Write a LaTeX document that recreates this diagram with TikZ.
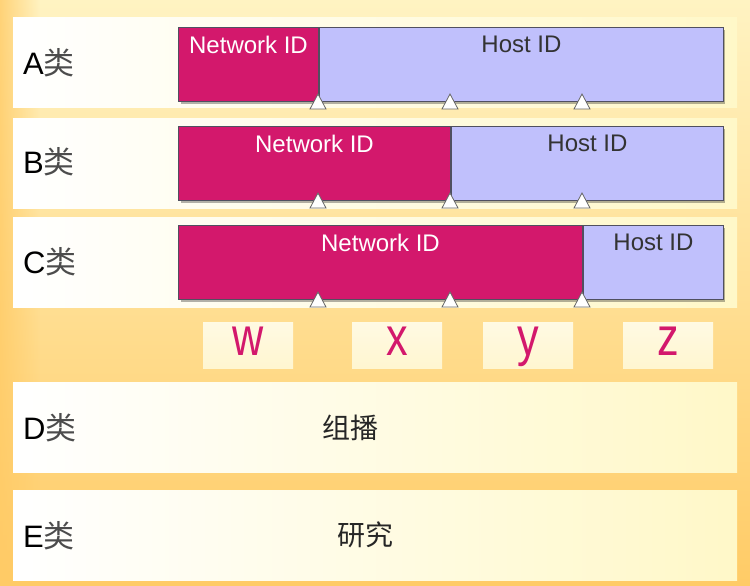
\documentclass[tikz,border=0pt]{standalone}
\usepackage{fontspec}
\setmainfont{Liberation Sans}
\newfontfamily\cjk{Noto Sans CJK SC}
\usetikzlibrary{positioning,fadings}
\definecolor{netred}{HTML}{D3186C}
\definecolor{hostblue}{HTML}{C0C0FC}
\definecolor{bgtop}{HTML}{FFF3C2}
\definecolor{bgbot}{HTML}{FFCB66}
\definecolor{panelr}{HTML}{FFF8C8}
\definecolor{barline}{HTML}{505060}
\definecolor{lettbox}{HTML}{FFF6D0}
\newcommand{\Tick}[2]{%
  \filldraw[fill=white,draw=gray!80!black,line width=0.8pt]
    ({#1-8},{#2+8}) -- (#1,{#2-7}) -- ({#1+8},{#2+8}) -- cycle;%
}
\newcommand{\Octet}[1]{\scalebox{0.8}[1]{#1}}
\tikzset{
  panel/.style={left color=white,right color=panelr,draw=none,inner sep=0pt,
    anchor=north west,minimum width=724pt,minimum height=90pt},
  seg/.style={draw=barline,line width=1pt,anchor=north west,inner sep=0pt,
    minimum height=74pt},
  netseg/.style={seg,fill=netred},
  hostseg/.style={seg,fill=hostblue},
  nettext/.style={text=white,font=\fontsize{24}{26}\selectfont,inner sep=0pt},
  hosttext/.style={text=black!80,font=\fontsize{24}{26}\selectfont,inner sep=0pt},
  rowlabel/.style={anchor=west,inner sep=0pt,font=\fontsize{31}{34}\selectfont},
  cjklabel/.style={inner sep=0pt,font=\cjk\fontsize{28}{32}\selectfont,text=black!85},
  lettbox/.style={top color=lettbox!60!white,bottom color=lettbox,draw=none,
    minimum width=90pt,minimum height=46pt,anchor=north west,inner sep=0pt},
  octet/.style={inner sep=0pt,text=netred,font=\fontsize{54}{54}\selectfont}
}
\begin{document}
\begin{tikzpicture}[x=1pt,y=-1pt]
  \shade[top color=bgtop,bottom color=bgbot] (0,0) rectangle (750,586);
  \fill[bgbot,path fading=east,opacity=0.8] (0,0) rectangle (40,586);
  \useasboundingbox (0,0) rectangle (750,586);

  % white rows
  \node[panel] (rowa) at (13,17) {};
  \node[panel] (rowb) at (13,118) {};
  \node[panel] (rowc) at (13,217) {};
  \node[panel] (rowd) at (13,382) {};
  \node[panel] (rowe) at (13,490) {};

  % shadows
  \fill[black,opacity=0.3] (181,30) rectangle (725,104);
  \fill[black,opacity=0.3] (181,129) rectangle (725,203);
  \fill[black,opacity=0.3] (181,228) rectangle (725,302);

  % A
  \node[netseg,minimum width=140pt] (anet) at (178,27) {};
  \node[hostseg,minimum width=404pt,right=0pt of anet.north east,anchor=north west] (ahost) {};
  \node[nettext,below=9pt of anet.north] {Network ID};
  \node[hosttext,below=9pt of ahost.north] {Host ID};
  % B
  \node[netseg,minimum width=272pt] (bnet) at (178,126) {};
  \node[hostseg,minimum width=272pt,right=0pt of bnet.north east,anchor=north west] (bhost) {};
  \node[nettext,below=9pt of bnet.north] {Network ID};
  \node[hosttext,below=9pt of bhost.north] {Host ID};
  % C
  \node[netseg,minimum width=404pt] (cnet) at (178,225) {};
  \node[hostseg,minimum width=140pt,right=0pt of cnet.north east,anchor=north west] (chost) {};
  \node[nettext,below=9pt of cnet.north] {Network ID};
  \node[hosttext,below=9pt of chost.north] {Host ID};

  \Tick{318}{101} \Tick{450}{101} \Tick{582}{101}
  \Tick{318}{200} \Tick{450}{200} \Tick{582}{200}
  \Tick{318}{299} \Tick{450}{299} \Tick{582}{299}

  % row names
  \node[rowlabel] (la) at (23,63) {A{\cjk\color{black!70}类}};
  \node[rowlabel] (lb) at (23,162) {B{\cjk\color{black!70}类}};
  \node[rowlabel] (lc) at (23,262) {C{\cjk\color{black!70}类}};
  \node[rowlabel] (ld) at (23,428) {D{\cjk\color{black!70}类}};
  \node[rowlabel] (le) at (23,536) {E{\cjk\color{black!70}类}};
  \node[cjklabel] (multi) at (350,428) {组播};
  \node[cjklabel] (research) at (365,535) {研究};

  % octets
  \node[lettbox] (wbox) at (203,322) {};
  \node[lettbox] (xbox) at (352,322) {};
  \node[lettbox] (ybox) at (483,322) {};
  \node[lettbox] (zbox) at (623,322) {};
  \node[octet,anchor=base] (w) at (248,355) {\Octet{w}};
  \node[octet,anchor=base] (x) at (397,355) {\Octet{x}};
  \node[octet,anchor=base] (y) at (528,355) {\Octet{y}};
  \node[octet,anchor=base] (z) at (668,355) {\Octet{z}};
\end{tikzpicture}
\end{document}
